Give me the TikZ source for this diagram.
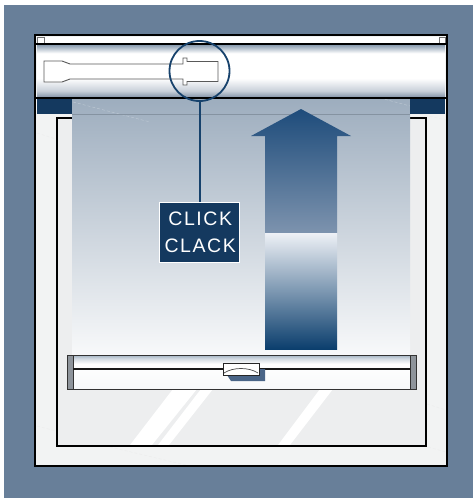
\documentclass[tikz,border=0pt]{standalone}
\usepackage{fontspec}
\newfontfamily\tagfont[LetterSpace=8]{Liberation Sans}
\definecolor{wall}{HTML}{687F99}
\definecolor{framegray}{HTML}{F2F3F3}
\definecolor{glass}{HTML}{EDEEEF}
\definecolor{navy}{HTML}{14395F}
\definecolor{ring}{HTML}{17426C}
\definecolor{hbtop}{HTML}{8C9EB1}
\definecolor{hbbot}{HTML}{8797AB}
\definecolor{blindtop}{HTML}{9DADBE}
\definecolor{blindmid}{HTML}{CAD3DC}
\definecolor{blindbot}{HTML}{F8F9FA}
\definecolor{arrowtop}{HTML}{1E4C7B}
\definecolor{arrowmid}{HTML}{7D93AE}
\definecolor{arrowpale}{HTML}{EEF1F6}
\definecolor{arrowlow}{HTML}{8799B7}
\definecolor{arrowdeep}{HTML}{0B3E6D}
\definecolor{handleshadow}{HTML}{4A6587}
\definecolor{capgray}{HTML}{8E949B}
\definecolor{bartop}{HTML}{A2B3C2}
% headbox: dark rims fading to a white band (bbox maps to 25bp..75bp)
\pgfdeclareverticalshading{headshade}{100bp}{%
  color(0bp)=(hbbot); color(25bp)=(hbbot); color(31bp)=(hbbot!45!white);
  color(43bp)=(white); color(67bp)=(white); color(75bp)=(hbtop); color(100bp)=(hbtop)}
% bottom bar: tinted top edge, white below
\pgfdeclareverticalshading{barshade}{100bp}{%
  color(0bp)=(white!92!bartop); color(25bp)=(white!92!bartop);
  color(62bp)=(white); color(70bp)=(bartop!50!white); color(75bp)=(bartop); color(100bp)=(bartop)}
\tikzset{
  blackline/.style={draw=black, line width=2.6pt},
  faint/.style={draw=white!85!gray, line width=0.4pt, dashed, dash pattern=on 3pt off 2pt},
  glint/.style={fill=white},
  slot/.style={draw=black!65, line width=0.9pt, fill=white},
  endcap/.style={fill=capgray, draw=black!80, line width=0.8pt},
}
\begin{document}
\begin{tikzpicture}[x=1pt,y=-1pt]
\useasboundingbox (0,0) rectangle (473,498);
\fill[white] (0,0) rectangle (473,498);
\fill[wall] (4,5) rectangle (473,498);

% outer frame
\fill[framegray] (35,35) rectangle (447,466);
\draw[faint] (37,426) -- (56,431);
\draw[faint] (110,447) -- (190,466);
\draw[faint] (427,404) -- (446,410);
\draw[faint] (428,447) -- (446,452);
\draw[faint] (37,133) -- (56,139);
\draw[faint] (410,112) -- (446,120);

% window pane
\fill[glass] (57,118) rectangle (426,446);
\fill[glint] (130,445) -- (152,445) -- (197,389) -- (173,389) -- cycle;
\fill[glint] (158,445) -- (169,445) -- (213,389) -- (201,389) -- cycle;
\fill[glint] (278,445) -- (290,445) -- (333,389) -- (320,389) -- cycle;
\draw[black, line width=2pt] (57,118) rectangle (426,446);

% blind fabric
\shade[top color=blindtop, middle color=blindmid, bottom color=blindbot] (72,98) rectangle (410,355);
\draw[faint, draw=white!35!blindtop] (73,102) -- (150,122);
\draw[faint, draw=white!35!blindtop] (380,98) -- (410,106);
\draw[draw=blindtop!85!black, line width=0.8pt] (72,114) -- (410,114);

% navy guide blocks
\fill[navy] (37,98) rectangle (72,113.5);
\fill[navy] (410,98) rectangle (445,113.5);

% head box
\fill[white] (37,37) rectangle (445,43);
\draw[black!55, line width=0.6pt] (37,37) rectangle (44,43);
\draw[black!55, line width=0.6pt] (439,37) rectangle (445,43);
\shade[shading=headshade] (37,45) rectangle (445,97);
\draw[black, line width=2pt] (36,44) -- (446,44);
\draw[black, line width=2.2pt] (36,98) -- (446,98);
\draw[slot] (44,61) -- (62,61) -- (70,64) -- (183,64) -- (183,58) -- (187,58) -- (187,61.5)
  -- (218,61.5) -- (218,81.5) -- (187,81.5) -- (187,85) -- (183,85) -- (183,79)
  -- (70,79) -- (62,82) -- (44,82) -- cycle;

% lift arrow
\shade[top color=arrowtop, bottom color=arrowmid]
  (301,109) -- (351,136) -- (337,136) -- (337,233) -- (265,233) -- (265,136) -- (251,136) -- cycle;
\shade[top color=arrowpale, middle color=arrowlow, bottom color=arrowdeep] (265,233) rectangle (337,349);

% bottom bar
\shade[shading=barshade] (70,355) rectangle (413,389);
\draw[black!80, line width=1pt] (70,355) -- (413,355);
\draw[black!80, line width=1pt] (70,389) -- (413,389);
\draw[endcap] (67,355) rectangle (73,389);
\draw[endcap] (410,355) rectangle (416,389);
\draw[black!90, line width=2.3pt] (73,369) -- (410,369);
\fill[handleshadow] (227,375) -- (259,375) -- (259,369) -- (265,369) -- (265,381) -- (231,381) -- cycle;
\draw[black!85, fill=white, line width=0.8pt] (223,363) rectangle (259,375.5);
\draw[black!70, line width=0.7pt] (224,373) .. controls (233,367) and (249,367) .. (258,373);

% detail ring and label
\node[circle, draw=ring, line width=1.8pt, minimum size=60pt, inner sep=0pt] (lens) at (199.5,71) {};
\node[draw=white, fill=navy, line width=1.6pt, minimum width=80pt, minimum height=60pt,
      inner sep=0pt, text=white, align=center, font=\tagfont\fontsize{19.5}{26.7}\selectfont]
  (tag) at (199.5,232.5) {CLICK\kern-1.5pt\\CLACK\kern-1.5pt};
\draw[ring, line width=2pt] (lens.south) -- (tag.north);

% frame outline on top
\draw[blackline] (35,35) rectangle (447,466);
\end{tikzpicture}
\end{document}
